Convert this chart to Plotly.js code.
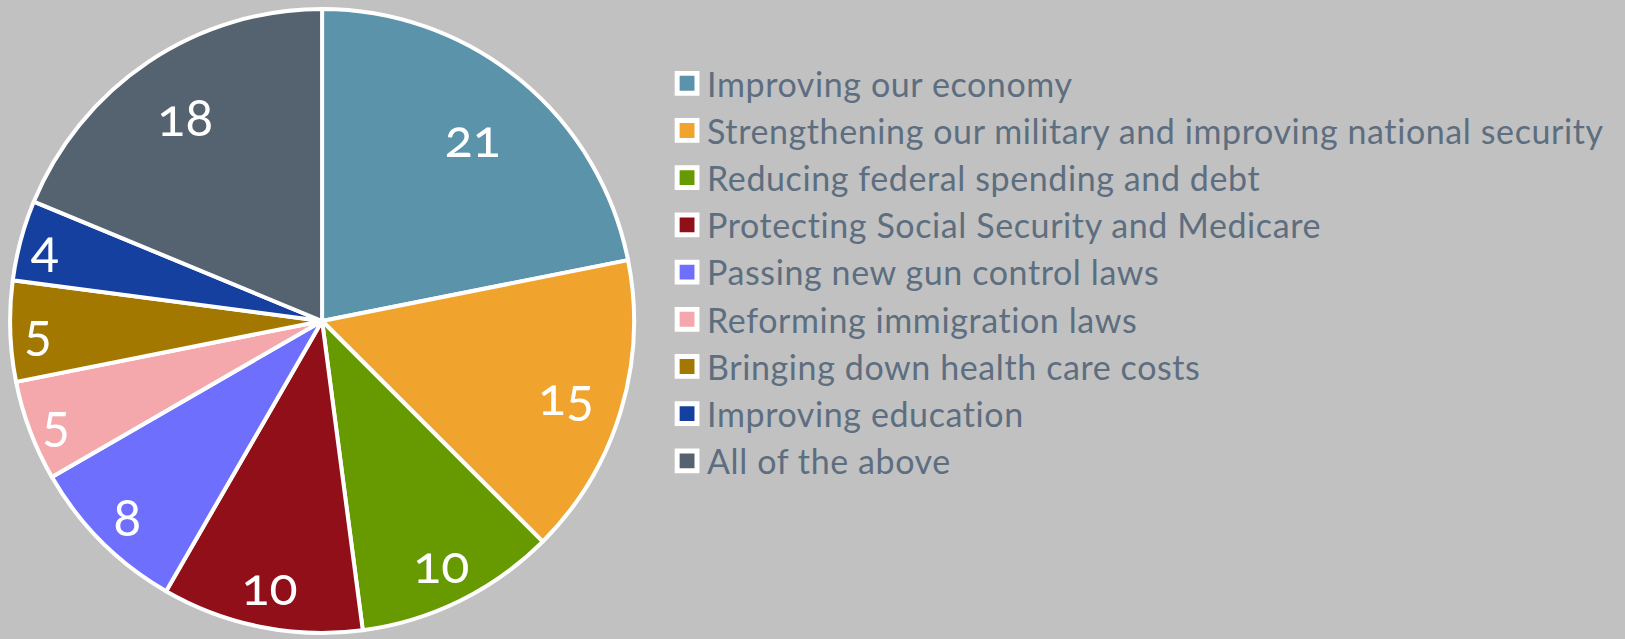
<!DOCTYPE html>
<html>
<head>
<meta charset="utf-8">
<script src="https://cdn.plot.ly/plotly-3.0.1.min.js"></script>
<style>
  html, body { margin: 0; padding: 0; background: #c1c1c1; }
  #plot { width: 1625px; height: 639px; }
  .legendtext { letter-spacing: 0.6px; }
  .slicetext { font-variant-numeric: oldstyle-nums; font-feature-settings: "onum" 1; }
</style>
</head>
<body>
<div id="plot"></div>
<script>
// priorities and their shares
var priorities = [
  'Improving our economy',
  'Strengthening our military and improving national security',
  'Reducing federal spending and debt',
  'Protecting Social Security and Medicare',
  'Passing new gun control laws',
  'Reforming immigration laws',
  'Bringing down health care costs',
  'Improving education',
  'All of the above'
];
var shares = [21, 15, 10, 10, 8, 5, 5, 4, 18];
var sliceColors = ['#5b93ab', '#f0a42e', '#679a00', '#910f18', '#6f6ffe',
                   '#f4a8ab', '#a37800', '#1640a0', '#556270'];

var pie = {
  type: 'pie',
  labels: priorities,
  values: shares,
  sort: false,
  direction: 'clockwise',
  rotation: 0,
  textinfo: 'value',
  textposition: 'inside',
  insidetextorientation: 'horizontal',
  textfont: { family: 'Lato, sans-serif', size: 52, color: '#ffffff' },
  marker: { colors: sliceColors, line: { color: '#ffffff', width: 4 } },
  domain: { x: [0.0062, 0.3902], y: [0.0094, 0.9859] },
  hoverinfo: 'label+value'
};

var layout = {
  width: 1625,
  height: 639,
  margin: { l: 0, r: 0, t: 0, b: 0 },
  paper_bgcolor: '#c1c1c1',
  showlegend: true,
  legend: {
    x: 0.4105, xanchor: 'left',
    y: 0.9144, yanchor: 'top',
    bgcolor: 'rgba(0,0,0,0)',
    font: { family: 'Lato, sans-serif', size: 34, color: '#5d6e80' }
  }
};

Plotly.newPlot('plot', [pie], layout, { displayModeBar: false }).then(function (gd) {
  // bigger legend swatches with white border
  document.querySelectorAll('.legendpoints path').forEach(function (p) {
    p.setAttribute('transform', 'translate(20,0) scale(1.65)');
    p.style.strokeWidth = '3px';
  });

  // push slice labels out toward the rim, smaller slices further out
  var cd = gd.calcdata[0];
  var cd0 = cd[0];
  var box = gd.getBoundingClientRect();
  var texts = document.querySelectorAll('g.slice text.slicetext');
  texts.forEach(function (t, i) {
    var pt = cd[i];
    var old = (t.getAttribute('transform') || '').replace(/scale\([^)]*\)/, '');
    t.setAttribute('transform', old);
    var len = Math.sqrt(pt.pxmid[0] * pt.pxmid[0] + pt.pxmid[1] * pt.pxmid[1]);
    var frac = 0.958 - 0.9 * pt.v / cd0.vTotal;
    var tx = box.left + cd0.cx + pt.pxmid[0] / len * cd0.r * frac;
    var ty = box.top + cd0.cy + pt.pxmid[1] / len * cd0.r * frac;
    var bb = t.getBoundingClientRect();
    var dx = tx - (bb.left + bb.width / 2);
    var dy = ty - (bb.top + bb.height / 2);
    t.setAttribute('transform', 'translate(' + dx + ',' + dy + ') ' + old);
  });
});
</script>
</body>
</html>
